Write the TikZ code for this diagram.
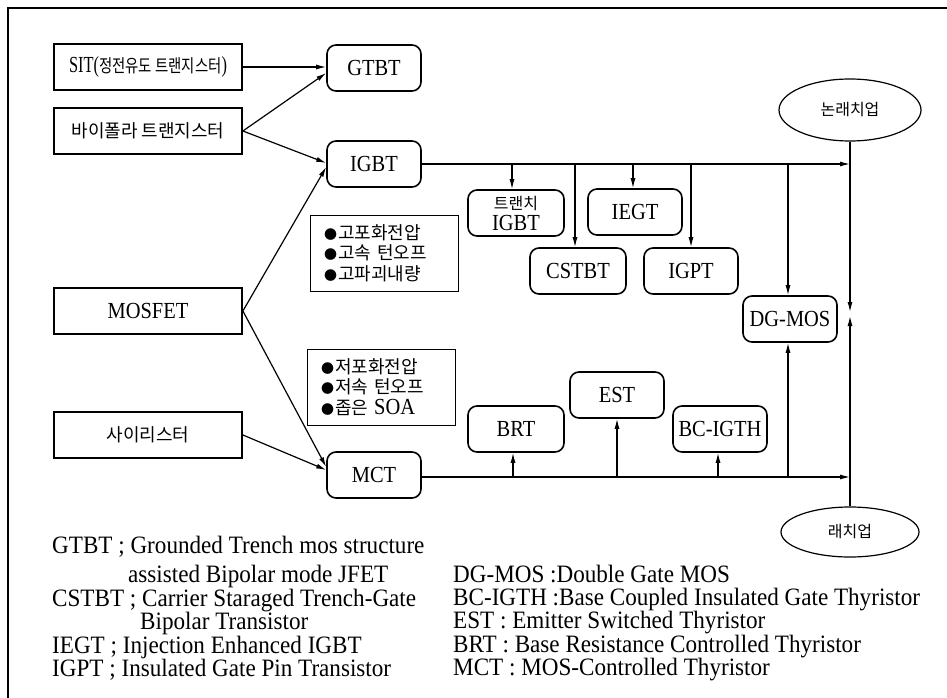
\documentclass[tikz,border=0pt]{standalone}
\usepackage{fontspec}
\setmainfont[FakeStretch=0.89]{Liberation Serif}
\newfontfamily\legfont[FakeStretch=0.925]{Liberation Serif}
\newfontfamily\kr{Noto Sans CJK KR}
\usepackage{graphicx}
\usetikzlibrary{arrows.meta,shapes.geometric}
\newcommand\K[1]{{\kr\fontsize{18}{20}\selectfont #1}}
\newcommand\Ks[1]{{\kr\fontsize{16}{18}\selectfont #1}}
\newcommand\bul{{\kr\fontsize{13}{13}\selectfont ●}\hspace{1pt}}
\begin{document}
\begin{tikzpicture}[x=1pt,y=-1pt,
 every node/.style={font=\fontsize{23}{26}\selectfont, inner sep=0pt},
 sqbox/.style={draw, line width=1.8pt, minimum width=188pt, minimum height=46pt},
 rbox/.style={draw, line width=1.6pt, rounded corners=9pt, minimum width=94pt, minimum height=46pt},
 infobox/.style={draw, line width=1pt, minimum width=148pt, minimum height=76pt, align=left,
   text width=120pt, font=\fontsize{18}{20.5}\selectfont},
 oval/.style={draw, ellipse, line width=1.2pt},
 arr/.style={line width=1.2pt, -{Latex[length=10pt,width=5pt]}},
 ln/.style={line width=1.2pt},
 leg/.style={anchor=west, font=\legfont\fontsize{25}{27}\selectfont, text height=15pt, text depth=4pt}]
\useasboundingbox (0,0) rectangle (947,698);
\coordinate (fa) at (8,698);
\coordinate (fb) at (8,8);
\coordinate (fc) at (947,8);
\draw[ln] (fa) -- (fb) -- (fc);

% left boxes
\node[sqbox] (sit) at (148,67) {\scalebox{0.8}[1]{SIT(\K{정전유도 트랜지스터})}};
\node[sqbox] (bip) at (148,131) {\K{바이폴라 트랜지스터}};
\node[sqbox] (mosfet) at (148,311) {MOSFET};
\node[sqbox] (thy) at (148,435) {\K{사이리스터}};

% rounded boxes
\node[rbox] (gtbt) at (374,68) {GTBT};
\node[rbox] (igbt) at (374,164) {IGBT};
\node[rbox] (mct) at (374,475) {MCT};
\node[rbox, minimum width=96pt] (trigbt) at (516,213) {};
\node (trigbt1) at (516,204) {\Ks{트랜치}};
\node (trigbt2) at (516,223) {IGBT};
\node[rbox] (iegt) at (635,212) {IEGT};
\node[rbox, minimum width=96pt] (cstbt) at (578,271) {CSTBT};
\node[rbox] (igpt) at (691,271) {IGPT};
\node[rbox] (dgmos) at (790,319) {DG-MOS};
\node[rbox, minimum width=96pt] (brt) at (516,429) {BRT};
\node[rbox] (est) at (617,395) {EST};
\node[rbox] (bcigth) at (720,429) {BC-IGTH};

% info boxes
\node[infobox] (hi) at (384,253) {\bul\K{고포화전압}\\\bul\K{고속 턴오프}\\\bul\K{고파괴내량}};
\node[infobox] (lo) at (381,387) {\bul\K{저포화전압}\\\bul\K{저속 턴오프}\\\bul\K{좁은} {\fontsize{23}{26}\selectfont SOA}};

% ellipses
\node[oval, minimum width=142pt, minimum height=62pt] (nolatch) at (850,110) {\Ks{논래치업}};
\node[oval, minimum width=138pt, minimum height=50pt] (latch) at (850,532) {\Ks{래치업}};

% arrows from left
\draw[arr] (sit.east) -- ([yshift=1pt]gtbt.west);
\draw[arr] (bip.east) -- ([yshift=-5pt]gtbt.west);
\draw[arr] (bip.east) -- ([yshift=1pt]igbt.west);
\draw[arr] (mosfet.east) -- ([yshift=-3pt]igbt.west);
\draw[arr] (mosfet.east) -- ([yshift=8pt]mct.west);
\draw[arr] (thy.east) -- ([yshift=5pt]mct.west);

% top bus
\coordinate (tj) at (850,164);
\draw[arr] (igbt.east) -- (tj);
\draw[arr] ([xshift=-4pt]trigbt.north |- tj) -- ([xshift=-4pt]trigbt.north);
\draw[arr] ([xshift=-3pt]cstbt.north |- tj) -- ([xshift=-3pt]cstbt.north);
\draw[arr] ([xshift=-2pt]iegt.north |- tj) -- ([xshift=-2pt]iegt.north);
\draw[arr] (igpt.north |- tj) -- (igpt.north);
\draw[arr] ([xshift=-2pt]dgmos.north |- tj) -- ([xshift=-2pt]dgmos.north);

% bottom bus
\coordinate (bj) at (850,477);
\draw[arr] (mct.east |- bj) -- (bj);
\draw[arr] ([xshift=-3pt]brt.south |- bj) -- ([xshift=-3pt]brt.south);
\draw[arr] (est.south |- bj) -- (est.south);
\draw[arr] ([xshift=-2pt]bcigth.south |- bj) -- ([xshift=-2pt]bcigth.south);
\draw[arr] ([xshift=-2pt]dgmos.south |- bj) -- ([xshift=-2pt]dgmos.south);

% vertical latch line
\coordinate (mid) at (850,314);
\draw[arr] (nolatch.south) -- ([yshift=2pt]mid);
\draw[arr] (latch.north) -- ([yshift=-2pt]mid);

% legend
\node[leg] (l1) at (52,548) {GTBT ; Grounded Trench mos structure};
\node[leg] (l2) at (128,577) {assisted Bipolar mode JFET};
\node[leg] (l3) at (52,601) {CSTBT ; Carrier Staraged Trench-Gate};
\node[leg] (l4) at (140,624) {Bipolar Transistor};
\node[leg] (l5) at (52,648) {IEGT ; Injection Enhanced IGBT};
\node[leg] (l6) at (52,671) {IGPT ; Insulated Gate Pin Transistor};
\node[leg] (r1) at (453,577) {DG-MOS :Double Gate MOS};
\node[leg] (r2) at (453,600) {BC-IGTH :Base Coupled Insulated Gate Thyristor};
\node[leg] (r3) at (453,623) {EST : Emitter Switched Thyristor};
\node[leg] (r4) at (453,647) {BRT : Base Resistance Controlled Thyristor};
\node[leg] (r5) at (453,670) {MCT : MOS-Controlled Thyristor};
\end{tikzpicture}
\end{document}
